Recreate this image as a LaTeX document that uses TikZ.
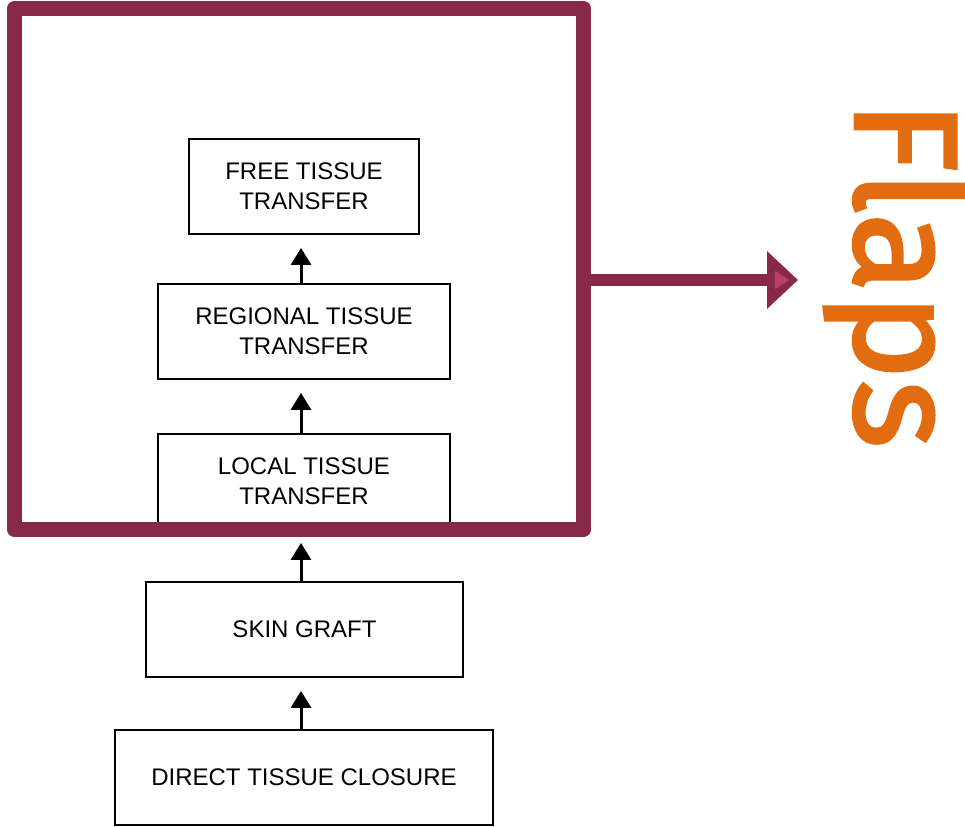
\documentclass[tikz,border=0pt]{standalone}
\usepackage{fontspec}
\setmainfont{Liberation Sans}
\newfontfamily\flapsfont[FakeBold=2]{Fira Sans}
\usetikzlibrary{arrows.meta}
\definecolor{framemaroon}{RGB}{135,41,73}
\definecolor{framehigh}{RGB}{186,62,106}
\definecolor{flapsorange}{RGB}{226,108,16}
\begin{document}
\begin{tikzpicture}[x=0.75pt,y=-0.75pt,
  stagebox/.style={draw=black, line width=1.9pt, fill=white, minimum width=#1,
    minimum height=71.25pt, inner sep=0pt, align=center,
    font=\fontsize{18}{22.5}\selectfont},
  flow/.style={-{Triangle[width=15pt,length=12.75pt]}, line width=2.25pt, shorten >=9.5pt},
  bigarrow/.style={-{Triangle[width=42pt,length=23.25pt]}, line width=9pt, draw=framemaroon},
  framebox/.style={draw=framemaroon, line width=11.25pt, line join=round,
    minimum width=426.75pt, minimum height=390.75pt, inner sep=0pt}]
\useasboundingbox (0,0) rectangle (965,827);
% stages
\node (free)     [stagebox=172.5pt]  at (304,186.5) {FREE TISSUE\\TRANSFER};
\node (regional) [stagebox=219pt]    at (304,331.5) {REGIONAL TISSUE\\TRANSFER};
\node (local)    [stagebox=219pt]    at (304,481.5) {LOCAL TISSUE\\TRANSFER};
\node (skin)     [stagebox=237.75pt] at (304.5,629.5) {SKIN GRAFT};
\node (direct)   [stagebox=283.5pt]  at (304,777.5) {DIRECT TISSUE CLOSURE};
% arrows
\coordinate (ax) at (301,0);
\draw[flow] (ax |- direct.north) -- (ax |- skin.south);
\draw[flow] (ax |- skin.north) -- (ax |- local.south);
\draw[flow] (ax |- local.north) -- (ax |- regional.south);
\draw[flow] (ax |- regional.north) -- (ax |- free.south);
% frame
\node (frame) [framebox] at (299,269) {};
\coordinate (flapstip) at (798,280);
\draw[bigarrow] (frame.east |- flapstip) -- (flapstip);
\fill[framehigh] (775,271) -- (789,280) -- (775,289) -- cycle;
% label
\node (flaps) [rotate=-90, anchor=base west, inner sep=0pt, text=flapsorange,
  font=\flapsfont\fontsize{110}{110}\selectfont] at (855,100) {Flaps};
\end{tikzpicture}
\end{document}
